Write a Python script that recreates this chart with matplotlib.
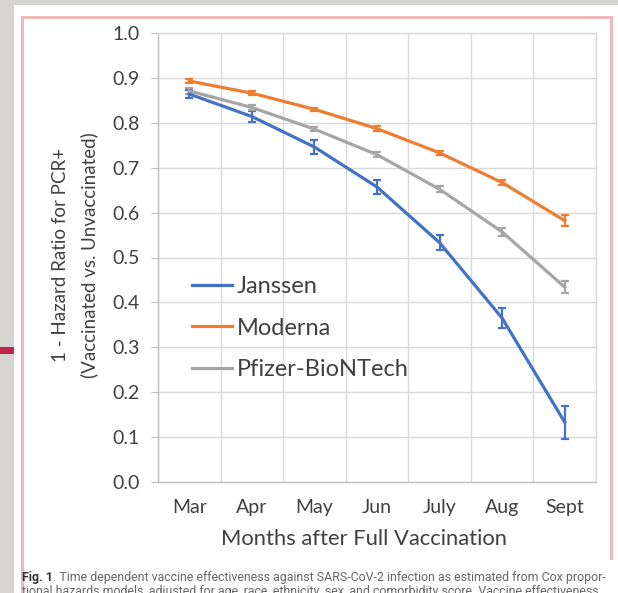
import matplotlib
matplotlib.use("Agg")
import matplotlib.pyplot as plt
from matplotlib.patches import Rectangle
from matplotlib.lines import Line2D
import numpy as np

months = ["Mar", "Apr", "May", "Jun", "July", "Aug", "Sept"]
janssen = [0.864, 0.814, 0.746, 0.657, 0.533, 0.365, 0.133]
janssen_err = [0.009, 0.012, 0.015, 0.016, 0.017, 0.023, 0.037]
moderna = [0.893, 0.866, 0.830, 0.787, 0.733, 0.667, 0.582]
moderna_err = [0.004, 0.004, 0.004, 0.005, 0.005, 0.006, 0.012]
pfizer = [0.871, 0.834, 0.786, 0.729, 0.652, 0.557, 0.434]
pfizer_err = [0.006, 0.005, 0.005, 0.006, 0.007, 0.009, 0.014]
series_names = ["Janssen", "Moderna", "Pfizer-BioNTech"]
colors = ["#4472C4", "#ED7D31", "#A5A5A5"]
yticks = [0.0, 0.1, 0.2, 0.3, 0.4, 0.5, 0.6, 0.7, 0.8, 0.9, 1.0]

W, H = 618, 593
fig = plt.figure(figsize=(W / 100, H / 100), dpi=100)
fig.patch.set_facecolor("white")

def fx(x):
    return x / W

def fy(y):
    return 1 - y / H

# screenshot frame
fig.patches.append(Rectangle((0, 0), fx(14), 1, transform=fig.transFigure,
                             facecolor="#d6d4d0", edgecolor="none", zorder=0))
fig.patches.append(Rectangle((0, fy(5)), 1, 5 / H, transform=fig.transFigure,
                             facecolor="#d6d4d0", edgecolor="none", zorder=0))
fig.patches.append(Rectangle((0, fy(354)), fx(14), 7 / H, transform=fig.transFigure,
                             facecolor="#c2234a", edgecolor="none", zorder=1))
pink = "#f2b8b8"
fig.patches.append(Rectangle((fx(21), 0), 3 / W, fy(16), transform=fig.transFigure,
                             facecolor=pink, edgecolor="none", zorder=1))
fig.patches.append(Rectangle((fx(21), fy(19)), fx(592), 3 / H, transform=fig.transFigure,
                             facecolor=pink, edgecolor="none", zorder=1))
fig.patches.append(Rectangle((fx(610), fy(560)), 3 / W, (560 - 16) / H, transform=fig.transFigure,
                             facecolor=pink, edgecolor="none", zorder=1))

ax = fig.add_axes([fx(158), fy(482), fx(596 - 158), (482 - 33) / H])
x = np.arange(len(months))
grid_c = "#d9d9d9"
for vals, errs, name, c in zip([janssen, moderna, pfizer],
                               [janssen_err, moderna_err, pfizer_err],
                               series_names, colors):
    ax.errorbar(x, vals, yerr=errs, color=c, lw=2.3, elinewidth=1.6,
                capsize=3, capthick=1.6, zorder=3)

ax.set_xlim(-0.5, len(months) - 0.5)
ax.set_ylim(0, 1.0)
ax.set_yticks(yticks)
ax.set_yticklabels([f"{v:.1f}" for v in yticks])
ax.set_xticks(x)
ax.set_xticklabels(months)
ax.set_xticks(np.arange(len(months) + 1) - 0.5, minor=True)
ax.grid(True, which="minor", axis="x", color=grid_c, lw=1)
ax.grid(True, which="major", axis="y", color=grid_c, lw=1)
ax.set_axisbelow(True)
for s in ax.spines.values():
    s.set_color(grid_c)
    s.set_linewidth(1)
ax.spines["left"].set_color("#bfbfbf")
ax.spines["bottom"].set_color("#bfbfbf")
font = "Lato"
ax.tick_params(axis="y", which="major", length=5, color="#bfbfbf", pad=8,
               labelsize=14, labelcolor="#404040")
ax.tick_params(axis="x", which="major", length=0, pad=12,
               labelsize=14, labelcolor="#404040")
ax.tick_params(axis="x", which="minor", length=0)
for lab in ax.get_xticklabels() + ax.get_yticklabels():
    lab.set_fontfamily(font)

handles = [Line2D([], [], color=c, lw=2.3) for c in colors]
leg = ax.legend(handles, series_names, loc="upper left", bbox_to_anchor=(fx(192), fy(276)),
                bbox_transform=fig.transFigure, frameon=False,
                prop={"family": font, "size": 17}, handlelength=1.7,
                handletextpad=0.2, labelspacing=0.87, borderpad=0,
                borderaxespad=0)
for t in leg.get_texts():
    t.set_color("#404040")

fig.text(fx(364), fy(539), "Months after Full Vaccination", ha="center", va="center",
         fontsize=15.8, family=font, color="#404040")
fig.text(fx(60), fy(255), "1 - Hazard Ratio for PCR+", ha="center", va="center",
         rotation=90, fontsize=13.5, family=font, color="#404040")
fig.text(fx(89), fy(255), "(Vaccinated vs. Unvaccinated)", ha="center", va="center",
         rotation=90, fontsize=13.5, family=font, color="#404040")

cap_y = fy(578)
fs_cap = 8.9
t1 = fig.text(fx(22), cap_y, "Fig. 1", ha="left", va="center", fontsize=fs_cap,
              family="Roboto", weight="bold", color="#333333")
fig.canvas.draw()
bb = t1.get_window_extent()
fig.text(bb.x1 / W, cap_y,
         ". Time dependent vaccine effectiveness against SARS-CoV-2 infection as estimated from Cox propor-",
         ha="left", va="center", fontsize=fs_cap, family="Roboto", color="#666666")
fig.text(fx(22), fy(592),
         "tional hazards models, adjusted for age, race, ethnicity, sex, and comorbidity score. Vaccine effectiveness",
         ha="left", va="center", fontsize=fs_cap, family="Roboto", color="#666666")

fig.savefig("out.png", dpi=100)
